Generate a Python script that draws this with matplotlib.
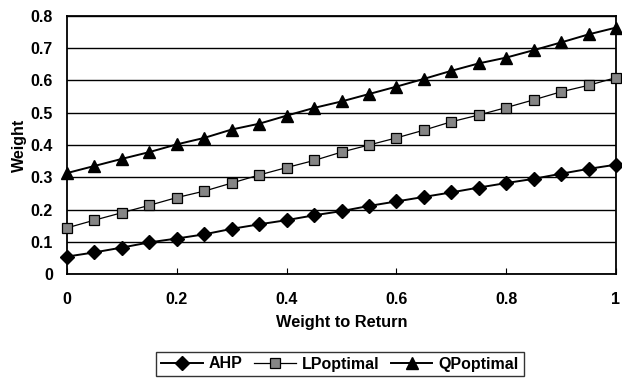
import numpy as np
import matplotlib
matplotlib.use("Agg")
import matplotlib.pyplot as plt

plt.rcParams["font.family"] = ["Liberation Sans", "DejaVu Sans"]
plt.rcParams["font.weight"] = "bold"

# weight to return, 0..1 in steps of 0.05
w_return = [0.00, 0.05, 0.10, 0.15, 0.20, 0.25, 0.30, 0.35, 0.40, 0.45, 0.50,
            0.55, 0.60, 0.65, 0.70, 0.75, 0.80, 0.85, 0.90, 0.95, 1.00]
ahp = [0.054, 0.067, 0.082, 0.098, 0.110, 0.123, 0.140, 0.154, 0.167, 0.182, 0.195,
       0.211, 0.225, 0.239, 0.253, 0.268, 0.282, 0.295, 0.311, 0.326, 0.339]
lp_optimal = [0.143, 0.167, 0.190, 0.213, 0.237, 0.257, 0.282, 0.307, 0.330, 0.352, 0.378,
              0.400, 0.422, 0.446, 0.472, 0.493, 0.516, 0.540, 0.565, 0.585, 0.609]
qp_optimal = [0.313, 0.335, 0.357, 0.378, 0.402, 0.422, 0.448, 0.466, 0.491, 0.515, 0.535,
              0.558, 0.581, 0.605, 0.630, 0.653, 0.671, 0.694, 0.718, 0.743, 0.764]

fig = plt.figure(figsize=(6.22, 3.82), dpi=100)
ax = fig.add_axes([67 / 622, 1 - 274 / 382, 549 / 622, 258 / 382])

ax.plot(w_return, ahp, color="black", lw=1.4, marker="D", ms=7,
        mfc="black", mec="black", label="AHP", clip_on=False, zorder=3)
ax.plot(w_return, lp_optimal, color="black", lw=0.9, marker="s", ms=7,
        mfc="#858585", mec="black", mew=0.9, label="LPoptimal", clip_on=False, zorder=3)
ax.plot(w_return, qp_optimal, color="black", lw=1.4, marker="^", ms=8.5,
        mfc="black", mec="black", label="QPoptimal", clip_on=False, zorder=3)

ax.set_xlim(0, 1)
ax.set_ylim(0, 0.8)
ax.set_xticks([0, 0.2, 0.4, 0.6, 0.8, 1.0])
ax.set_xticklabels(["0", "0.2", "0.4", "0.6", "0.8", "1"])
ax.set_yticks(np.arange(0, 0.81, 0.1))
ax.set_yticklabels(["0", "0.1", "0.2", "0.3", "0.4", "0.5", "0.6", "0.7", "0.8"])
ax.yaxis.grid(True, color="black", lw=1.0)
ax.set_axisbelow(True)
ax.tick_params(axis="x", direction="in", length=4, pad=13, labelsize=11.5)
ax.tick_params(axis="y", length=0, pad=10, labelsize=11.5)
for sp in ax.spines.values():
    sp.set_linewidth(1.3)

ax.set_xlabel("Weight to Return", fontsize=11.8, fontweight="bold", labelpad=6)
ax.set_ylabel("Weight", fontsize=11.5, fontweight="bold", labelpad=3)

fig.legend(loc="center", bbox_to_anchor=(340 / 622, 1 - 364 / 382), ncol=3,
           frameon=True, fancybox=False, edgecolor="black",
           handlelength=2.6, handletextpad=0.4, columnspacing=0.7,
           borderpad=0.3, prop={"weight": "bold", "size": 11.5})

fig.savefig("out.png", dpi=100)
